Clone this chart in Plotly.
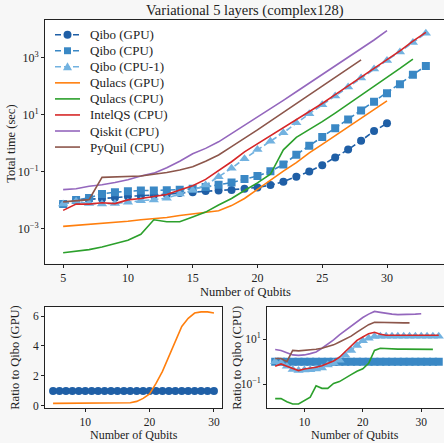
import plotly.graph_objects as go

# ---------------- data ----------------
n_gpu = list(range(5, 31))    # 5..30
n_cpu = list(range(5, 34))    # 5..33
n_qulacs_cpu = list(range(5, 33))  # 5..32
n_qiskit = list(range(5, 31))  # 5..30
n_pyquil = list(range(5, 29))  # 5..28

qibo_gpu = [0.0071, 0.0095, 0.0105, 0.011, 0.012, 0.0132, 0.0138, 0.0145, 0.0158, 0.0174,
            0.0186, 0.0204, 0.0214, 0.0224, 0.0245, 0.0275, 0.0331, 0.0437, 0.0646, 0.1,
            0.166, 0.309, 0.589, 1.2, 2.63, 4.9]
qibo_cpu = [0.0071, 0.01, 0.0117, 0.0162, 0.0186, 0.02, 0.0214, 0.0214, 0.0219, 0.0229,
            0.0245, 0.0282, 0.0339, 0.0407, 0.0537, 0.0692, 0.102, 0.174, 0.389, 0.794,
            1.62, 3.31, 6.76, 13.8, 28.2, 56.2, 115, 251, 513]
qibo_cpu1 = [0.0071, 0.0089, 0.0074, 0.0072, 0.0074, 0.0083, 0.0093, 0.01, 0.0115, 0.0162,
             0.0219, 0.0331, 0.0646, 0.129, 0.282, 0.589, 1.15, 2.29, 5.13, 10.7,
             21.9, 44.7, 93.3, 191, 398, 794, 1585, 3388, 7244]
qulacs_gpu = [0.00117, 0.00126, 0.00138, 0.00148, 0.00162, 0.00178, 0.002, 0.00219, 0.0024, 0.00282,
              0.00316, 0.00355, 0.00417, 0.0063, 0.0112, 0.0234, 0.0501, 0.102, 0.204, 0.447,
              0.891, 1.82, 3.63, 7.59, 15.8, 30.2]
qulacs_cpu = [0.000138, 0.000158, 0.000178, 0.000219, 0.000282, 0.00038, 0.000617, 0.002, 0.0017, 0.0017,
              0.00251, 0.00372, 0.00661, 0.0112, 0.0214, 0.0398, 0.0794, 0.575, 1.58, 2.95,
              5.62, 11.2, 22.9, 46.8, 95.5, 200, 417, 891]
intelqs = [0.00427, 0.00708, 0.00708, 0.00794, 0.00741, 0.01, 0.0112, 0.0129, 0.0155, 0.0224,
           0.0316, 0.0525, 0.107, 0.219, 0.49, 0.933, 1.82, 3.55, 6.46, 12.0,
           24.5, 50.1, 102, 209, 427, 851, 1738, 3802, 7762]
qiskit = [0.0229, 0.0245, 0.0302, 0.0339, 0.0407, 0.0513, 0.0692, 0.0871, 0.135, 0.229,
          0.417, 0.646, 1.1, 2.14, 4.17, 7.94, 15.8, 31.6, 63.1, 126,
          251, 501, 1000, 1995, 4169, 8913]
pyquil = [0.00851, 0.00912, 0.0102, 0.0617, 0.0646, 0.0661, 0.0692, 0.0794, 0.0912, 0.112,
          0.145, 0.229, 0.38, 0.741, 1.41, 2.88, 5.89, 11.7, 24.0, 49.0,
          100, 200, 407, 832]

# ratios to Qibo (GPU)
ratio_gpu_qibo = [1.0] * 26
ratio_gpu_qulacs = [0.17, 0.17, 0.17, 0.17, 0.17, 0.17, 0.17, 0.17, 0.18, 0.18,
                    0.18, 0.19, 0.21, 0.3, 0.5, 0.8, 1.5, 2.3, 3.3, 4.4,
                    5.3, 5.85, 6.2, 6.28, 6.28, 6.2]
# ratios to Qibo (CPU)
ratio_cpu_qibo = [1.0] * 29
ratio_cpu_qibo1 = [1.0, 0.89, 0.63, 0.45, 0.4, 0.42, 0.44, 0.47, 0.52, 0.71,
                   0.89, 1.17, 1.91, 3.16, 5.25, 8.51, 11.2, 13.2, 13.5, 13.5,
                   13.5, 13.5, 13.5, 13.5, 13.5, 13.5, 13.5, 13.5, 13.5]
ratio_cpu_qulacs = [0.0224, 0.0224, 0.0162, 0.0129, 0.0129, 0.0178, 0.0263, 0.0832, 0.0646, 0.0646,
                    0.107, 0.129, 0.191, 0.263, 0.372, 0.479, 0.851, 3.16, 3.98, 3.8,
                    3.72, 3.63, 3.63, 3.63, 3.55, 3.55, 3.55, 3.55]
ratio_cpu_intelqs = [0.63, 0.79, 0.63, 0.5, 0.4, 0.47, 0.5, 0.56, 0.66, 0.83,
                     1.07, 1.58, 2.82, 5.25, 8.91, 12.6, 17.8, 20.4, 16.6, 15.1,
                     15.1, 15.1, 15.1, 15.1, 15.1, 15.1, 15.1, 15.1, 15.1]
ratio_cpu_qiskit = [3.47, 3.16, 2.51, 2.0, 1.91, 2.0, 2.29, 2.69, 3.98, 6.03,
                    9.33, 15.8, 25.1, 39.8, 63.1, 93.3, 132, 174, 158, 141,
                    132, 126, 126, 126, 132, 138]
ratio_cpu_pyquil = [1.38, 1.38, 1.0, 3.16, 3.02, 3.16, 3.16, 3.55, 3.98, 4.57,
                    5.62, 7.59, 10, 13.8, 20.9, 31.6, 44.7, 57.5, 56.2, 53.7,
                    53.7, 53.7, 53.7, 53.7]

legend_names = ["Qibo (GPU)", "Qibo (CPU)", "Qibo (CPU-1)", "Qulacs (GPU)",
                "Qulacs (CPU)", "IntelQS (CPU)", "Qiskit (CPU)", "PyQuil (CPU)"]

# ---------------- styles ----------------
C_GPU = "#1f5fa6"
C_CPU = "#3a88c5"
C_CPU1 = "#72b2e0"
C_ORANGE = "#ff7f0e"
C_GREEN = "#2ca02c"
C_RED = "#d62728"
C_PURPLE = "#9467bd"
C_BROWN = "#8c564b"
FONT = "Liberation Serif"
LW = 1.6
DASH = "6px,3px"
legend_colors = [C_GPU, C_CPU, C_CPU1, C_ORANGE, C_GREEN, C_RED, C_PURPLE, C_BROWN]
legend_markers = ["circle", "square", "triangle", None, None, None, None, None]

fig = go.Figure()

def add(x, y, name, color, xa, ya, marker=None, dashed=False, msize=8):
    kw = dict(x=x, y=y, name=name, xaxis=xa, yaxis=ya, showlegend=False,
              line=dict(color=color, width=LW, dash=DASH if dashed else "solid"))
    if marker:
        kw["mode"] = "lines+markers"
        kw["marker"] = dict(symbol=marker, size=msize, color=color)
    else:
        kw["mode"] = "lines"
    fig.add_trace(go.Scatter(**kw))

# main plot
add(n_gpu, qibo_gpu, "Qibo (GPU)", C_GPU, "x", "y", "circle", True)
add(n_cpu, qibo_cpu, "Qibo (CPU)", C_CPU, "x", "y", "square", True)
add(n_cpu, qibo_cpu1, "Qibo (CPU-1)", C_CPU1, "x", "y", "triangle-up", True, 9)
add(n_gpu, qulacs_gpu, "Qulacs (GPU)", C_ORANGE, "x", "y")
add(n_qulacs_cpu, qulacs_cpu, "Qulacs (CPU)", C_GREEN, "x", "y")
add(n_cpu, intelqs, "IntelQS (CPU)", C_RED, "x", "y")
add(n_qiskit, qiskit, "Qiskit (CPU)", C_PURPLE, "x", "y")
add(n_pyquil, pyquil, "PyQuil (CPU)", C_BROWN, "x", "y")

# bottom-left
add(n_gpu, ratio_gpu_qibo, "Qibo (GPU)", C_GPU, "x2", "y2", "circle", True)
add(n_gpu, ratio_gpu_qulacs, "Qulacs (GPU)", C_ORANGE, "x2", "y2")

# bottom-right
add(n_cpu, ratio_cpu_qibo, "Qibo (CPU)", C_CPU, "x3", "y3", "square", True)
add(n_cpu, ratio_cpu_qibo1, "Qibo (CPU-1)", C_CPU1, "x3", "y3", "triangle-up", True, 9)
add(n_qulacs_cpu, ratio_cpu_qulacs, "Qulacs (CPU)", C_GREEN, "x3", "y3")
add(n_cpu, ratio_cpu_intelqs, "IntelQS (CPU)", C_RED, "x3", "y3")
add(n_qiskit, ratio_cpu_qiskit, "Qiskit (CPU)", C_PURPLE, "x3", "y3")
add(n_pyquil, ratio_cpu_pyquil, "PyQuil (CPU)", C_BROWN, "x3", "y3")

W, H = 444, 443
def px_x(p):
    return p / W
def px_y(p):
    return 1 - p / H

axis_common = dict(showline=True, linecolor="#222", linewidth=1, ticks="outside",
                   ticklen=3, tickcolor="#222", showgrid=False, zeroline=False,
                   tickfont=dict(family=FONT, size=12, color="#222"))
small_tick = dict(axis_common, tickfont=dict(family=FONT, size=11.5, color="#222"))

fig.update_layout(
    width=W, height=H,
    margin=dict(l=0, r=0, t=0, b=0),
    paper_bgcolor="#f7f7f7",
    plot_bgcolor="white",
    font=dict(family=FONT, size=12, color="#222"),
    showlegend=False,
    xaxis=dict(domain=[px_x(45), 1.0], range=[3.6, 34.4], tickvals=[5, 10, 15, 20, 25, 30],
               anchor="y", mirror=True, **axis_common),
    yaxis=dict(domain=[px_y(266), px_y(20)], type="log", range=[-4.24, 4.33],
               tickvals=[1e-3, 1e-1, 1e1, 1e3],
               ticktext=["10<sup>−3</sup>", "10<sup>−1</sup>", "10<sup>1</sup>", "10<sup>3</sup>"],
               anchor="x", **axis_common),
    xaxis2=dict(domain=[px_x(45), px_x(222)], range=[3.75, 31.25], tickvals=[10, 20, 30],
                anchor="y2", mirror=True, **small_tick),
    yaxis2=dict(domain=[px_y(412), px_y(310)], range=[-0.16, 6.59], tickvals=[0, 2, 4, 6],
                anchor="x2", mirror=True, **small_tick),
    xaxis3=dict(domain=[px_x(267), 1.0], range=[3.6, 33.9], tickvals=[10, 20, 30],
                anchor="y3", mirror=True, **small_tick),
    yaxis3=dict(domain=[px_y(412), px_y(310)], type="log", range=[-2.08, 2.43],
                tickvals=[1e-1, 1e1], ticktext=["10<sup>−1</sup>", "10<sup>1</sup>"],
                anchor="x3", **small_tick),
)

annotations = []
ann = [
    dict(text="Variational 5 layers (complex128)", x=245, y=11, size=14.5, angle=0),
    dict(text="Number of Qubits", x=245, y=295, size=12.5, angle=0),
    dict(text="Total time (sec)", x=11, y=145, size=12.5, angle=-90),
    dict(text="Number of Qubits", x=134, y=438.5, size=12, angle=0),
    dict(text="Ratio to Qibo (GPU)", x=15, y=361, size=12.5, angle=-90),
    dict(text="Number of Qubits", x=355, y=438.5, size=12, angle=0),
    dict(text="Ratio to Qibo (CPU)", x=237, y=361, size=12.5, angle=-90),
]
for a in ann:
    annotations.append(dict(text=a["text"], x=px_x(a["x"]), y=px_y(a["y"]), xref="paper", yref="paper",
                            xanchor="center", yanchor="middle", showarrow=False, textangle=a["angle"],
                            font=dict(family=FONT, size=a["size"], color="#222")))

# ---- legend (drawn as key shapes + text, like matplotlib's compact legend) ----
shapes = []
LEG_X0, LEG_X1, LEG_TX = 55, 80, 88
for i, (name, col, mk) in enumerate(zip(legend_names, legend_colors, legend_markers)):
    yc = 35 + 16.2 * i
    dashed = mk is not None
    shapes.append(dict(type="line", xref="paper", yref="paper",
                       x0=px_x(LEG_X0), x1=px_x(LEG_X1), y0=px_y(yc), y1=px_y(yc),
                       line=dict(color=col, width=LW, dash=DASH if dashed else "solid")))
    xm = (LEG_X0 + LEG_X1) / 2
    if mk == "circle":
        shapes.append(dict(type="circle", xref="paper", yref="paper",
                           x0=px_x(xm - 4), x1=px_x(xm + 4), y0=px_y(yc + 4), y1=px_y(yc - 4),
                           fillcolor=col, line=dict(color=col, width=0)))
    elif mk == "square":
        shapes.append(dict(type="rect", xref="paper", yref="paper",
                           x0=px_x(xm - 3.5), x1=px_x(xm + 3.5), y0=px_y(yc + 3.5), y1=px_y(yc - 3.5),
                           fillcolor=col, line=dict(color=col, width=0)))
    elif mk == "triangle":
        p = "M {} {} L {} {} L {} {} Z".format(px_x(xm - 4.5), px_y(yc + 3.5),
                                              px_x(xm + 4.5), px_y(yc + 3.5),
                                              px_x(xm), px_y(yc - 4.5))
        shapes.append(dict(type="path", xref="paper", yref="paper", path=p,
                           fillcolor=col, line=dict(color=col, width=0)))
    annotations.append(dict(text=name, x=px_x(LEG_TX), y=px_y(yc), xref="paper", yref="paper",
                            xanchor="left", yanchor="middle", showarrow=False,
                            font=dict(family=FONT, size=13, color="#222")))

fig.update_layout(annotations=annotations, shapes=shapes)

fig.write_html("out.html", config={"displayModeBar": False},
               post_script="document.body.style.margin='0';")
